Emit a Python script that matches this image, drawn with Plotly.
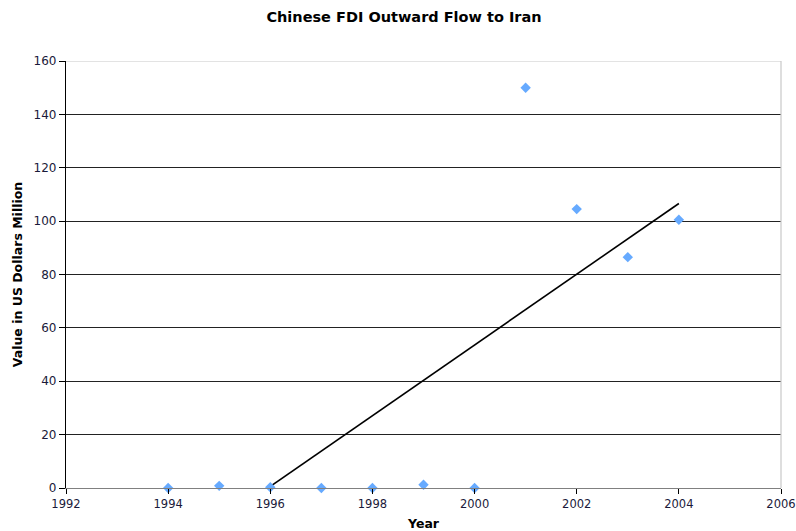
import numpy as np
import plotly.graph_objects as go

# Chinese outward FDI flow to Iran, US$ million
years = [1994, 1995, 1996, 1997, 1998, 1999, 2000, 2001, 2002, 2003, 2004]
values = [0.0, 0.8, 0.3, 0.0, 0.0, 1.2, 0.0, 150.0, 104.5, 86.5, 100.5]

x_ticks = [1992, 1994, 1996, 1998, 2000, 2002, 2004, 2006]
y_ticks = [0, 20, 40, 60, 80, 100, 120, 140, 160]

# Linear least-squares trend over the observed years
slope, intercept = np.polyfit(years, values, 1)
trend_x = [years[0], years[-1]]
trend_y = [slope * x + intercept for x in trend_x]

font_family = "DejaVu Sans, Verdana, sans-serif"
tick_color = "#1a1a3a"

fig = go.Figure()

fig.add_trace(go.Scatter(
    x=trend_x, y=trend_y, mode="lines",
    line=dict(color="black", width=1.6),
    showlegend=False, hoverinfo="skip",
))

fig.add_trace(go.Scatter(
    x=years, y=values, mode="markers",
    marker=dict(symbol="diamond", size=8, color="#66aaff",
                line=dict(width=0)),
    cliponaxis=False, showlegend=False,
))

# light frame along top and right of the plotting area
fig.add_shape(type="line", xref="paper", yref="y", x0=0, x1=1, y0=160, y1=160,
              line=dict(color="#c8c8c8", width=1.2), layer="above")
fig.add_shape(type="line", xref="paper", yref="paper", x0=1, x1=1, y0=0, y1=1,
              line=dict(color="#c8c8c8", width=1.2), layer="above")

fig.update_layout(
    width=796, height=531,
    margin=dict(l=66, r=15, t=61, b=43),
    paper_bgcolor="white", plot_bgcolor="white",
    font=dict(family=font_family, size=12, color=tick_color),
    title=dict(text="<b>Chinese FDI Outward Flow to Iran</b>",
               x=404 / 796, xref="container", xanchor="center",
               y=1 - 17 / 531, yanchor="middle",
               font=dict(size=14.5, color="black", family=font_family)),
    xaxis=dict(
        range=[1992, 2006], tickvals=x_ticks, ticktext=[str(v) for v in x_ticks],
        showgrid=False, zeroline=False, automargin=False,
        ticklabeloverflow="allow",
        showline=True, linecolor="#808080", linewidth=1.2,
        ticks="outside", ticklen=5, tickcolor="black", tickwidth=1,
        tickfont=dict(size=11.5, color=tick_color),
        title=dict(text="<b>Year</b>", standoff=9,
                   font=dict(size=12.5, color="black")),
    ),
    yaxis=dict(
        range=[0, 160], tickvals=y_ticks,
        showgrid=True, gridcolor="#222222", gridwidth=1,
        zeroline=False, automargin=False,
        showline=True, linecolor="black", linewidth=1.2,
        ticks="outside", ticklen=6, tickcolor="black", tickwidth=1,
        tickfont=dict(size=12, color=tick_color),
        title=dict(text="<b>Value in US Dollars Million</b>", standoff=8,
                   font=dict(size=12.5, color="black")),
    ),
)

fig.write_html("out.html")
